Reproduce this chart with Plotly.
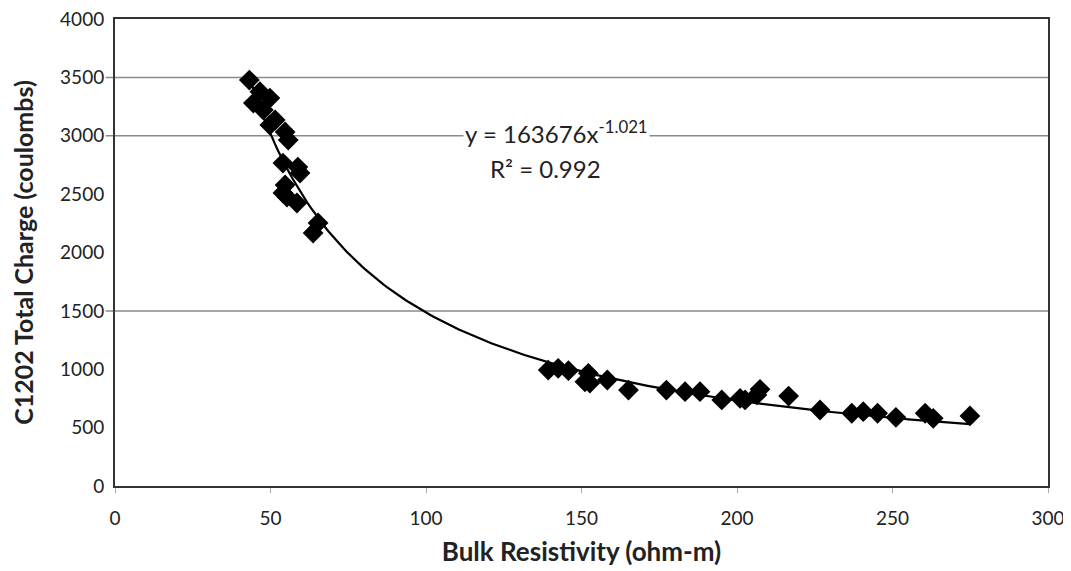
import numpy as np
import plotly.graph_objects as go

resistivity = [43.2, 46.6, 49.8, 44.5, 47.7, 51.5, 49.8, 54.7, 55.7, 54.0,
               58.8, 59.5, 54.7, 54.0, 58.5, 55.3, 65.3, 63.7,
               139.3, 142.5, 145.8, 152.2, 151.1, 152.7, 158.3, 165.1, 177.3,
               183.3, 188.1, 195.1, 201.0, 202.6, 207.4, 206.4, 216.6,
               226.7, 236.9, 240.6, 245.2, 251.1, 260.5, 263.1, 274.9]
charge = [3477, 3377, 3323, 3280, 3220, 3135, 3092, 3032, 2963, 2766,
          2732, 2681, 2578, 2510, 2424, 2475, 2253, 2167,
          993, 1008, 988, 965, 893, 882, 908, 822, 822,
          808, 808, 737, 751, 737, 828, 780, 770,
          651, 623, 637, 623, 588, 623, 580, 600]

# power trendline shown on the chart
fit_a = 163676
fit_b = -1.021
grid_values = [1500, 3000, 3500]

font = "Lato, 'Open Sans', sans-serif"

fig = go.Figure()

x_fit = np.linspace(min(resistivity), max(resistivity), 200)
fig.add_trace(go.Scatter(
    x=x_fit, y=fit_a * x_fit ** fit_b, mode="lines",
    line=dict(color="black", width=2.2), hoverinfo="skip",
))

fig.add_trace(go.Scatter(
    x=resistivity, y=charge, mode="markers",
    marker=dict(symbol="diamond", size=16, color="black"),
))

for g in grid_values:
    fig.add_shape(type="line", xref="paper", x0=-0.01, x1=1, yref="y", y0=g, y1=g,
                  line=dict(color="#8a8a8a", width=1.5), layer="below")

fig.add_annotation(
    x=142, y=3035, xref="x", yref="y",
    text="y = 163676x<sup>-1.021</sup>", showarrow=False,
    font=dict(family=font, size=24, color="#222"), bgcolor="white",
)
fig.add_annotation(
    x=138.3, y=2720, xref="x", yref="y",
    text="R² = 0.992", showarrow=False,
    font=dict(family=font, size=24, color="#222"),
)

# page body adds an 8px margin, so the figure is 8px smaller each way
fig.update_layout(
    width=1063, height=563,
    margin=dict(l=107, r=23, t=11, b=85),
    paper_bgcolor="white", plot_bgcolor="white",
    showlegend=False,
    font=dict(family=font, size=19, color="#222"),
)
fig.update_xaxes(
    range=[0, 300], dtick=50, showgrid=False, zeroline=False, automargin=False,
    showline=True, linecolor="#333", linewidth=2, mirror=True,
    ticks="outside", ticklen=5, tickcolor="#aaa", ticklabelstandoff=9,
    ticklabeloverflow="allow",
    title=dict(text="<b>Bulk Resistivity (ohm-m)</b>", font=dict(size=26), standoff=15),
)
fig.update_yaxes(
    range=[0, 4000], dtick=500, showgrid=False, zeroline=False, automargin=False,
    showline=True, linecolor="#333", linewidth=2, mirror=True,
    ticks="", ticklabelstandoff=5, ticklabeloverflow="allow",
    title=dict(text="<b>C1202 Total Charge (coulombs)</b>", font=dict(size=25), standoff=32),
)

fig.write_html("out.html")
